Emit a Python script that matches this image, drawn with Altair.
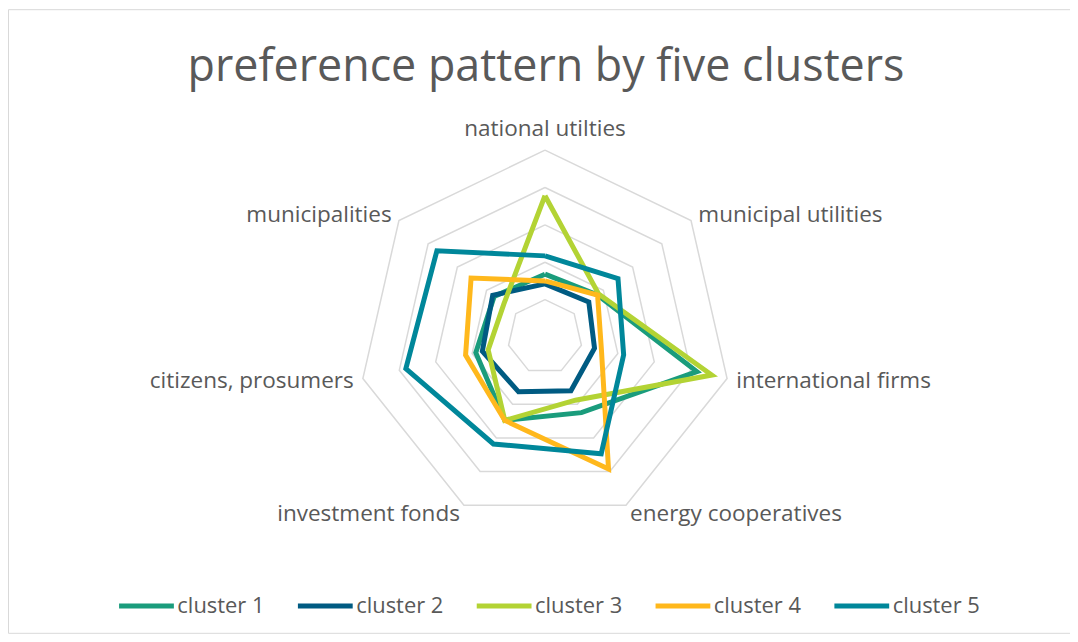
import altair as alt
import pandas as pd

categories = ["national utilties", "municipal utilities", "international firms",
              "energy cooperatives", "investment fonds", "citizens, prosumers",
              "municipalities"]
series_names = ["cluster 1", "cluster 2", "cluster 3", "cluster 4", "cluster 5"]
cluster1 = [1.68, 1.80, 4.17, 2.25, 2.48, 1.90, 1.74]
cluster2 = [1.42, 1.50, 1.36, 1.60, 1.63, 1.72, 1.79]
cluster3 = [3.78, 1.84, 4.58, 1.88, 2.48, 1.56, 1.41]
cluster4 = [1.50, 1.80, 1.55, 3.92, 2.48, 2.18, 2.53]
cluster5 = [2.17, 2.50, 2.16, 3.47, 3.18, 3.82, 3.70]
ring_levels = [1, 2, 3, 4, 5]
colors = ["#1A9C7C", "#005B82", "#B3D334", "#FFB81C", "#00879A"]
title_text = "preference pattern by five clusters"

FONT = "Open Sans"
TEXT_COLOR = "#595959"

rows = []
for name, vals in zip(series_names, [cluster1, cluster2, cluster3, cluster4, cluster5]):
    for i in range(8):
        rows.append({"series": name, "idx": i, "value": vals[i % 7]})
df = pd.DataFrame(rows)

grid_df = pd.DataFrame([{"ring": r, "idx": i, "value": r}
                        for r in ring_levels for i in range(8)])
labels_df = pd.DataFrame({"category": categories, "idx": list(range(7))})
title_df = pd.DataFrame({"t": [title_text]})

W, H = 1066, 626
xscale = alt.Scale(domain=[-539 / 37.5, (W - 539) / 37.5], nice=False, zero=False)
yscale = alt.Scale(domain=[-(H - 329) / 37.5, 329 / 37.5], nice=False, zero=False)

polar = dict(
    x="datum.value * sin(datum.idx * 2 * PI / 7)",
    y="datum.value * cos(datum.idx * 2 * PI / 7)",
)

grid = alt.Chart(grid_df).transform_calculate(**polar).mark_line(
    color="#D9D9D9", strokeWidth=1.5
).encode(
    x=alt.X("x:Q", scale=xscale, axis=None),
    y=alt.Y("y:Q", scale=yscale, axis=None),
    detail="ring:N",
    order="idx:Q",
)

lines = alt.Chart(df).transform_calculate(**polar).mark_line(
    strokeWidth=5, strokeJoin="miter"
).encode(
    x=alt.X("x:Q", scale=xscale, axis=None),
    y=alt.Y("y:Q", scale=yscale, axis=None),
    color=alt.Color(
        "series:N",
        scale=alt.Scale(domain=series_names, range=colors),
        legend=alt.Legend(
            title=None, orient="none", legendX=109, legendY=569,
            direction="horizontal", columns=5, symbolType="stroke",
            symbolSize=3025, symbolStrokeWidth=5, labelFontSize=22,
            labelFont=FONT, labelColor=TEXT_COLOR, labelOffset=1,
            columnPadding=22.5,
        ),
    ),
    order="idx:Q",
)

lab_base = alt.Chart(labels_df).transform_calculate(
    lx="5.25 * sin(datum.idx * 2 * PI / 7)",
    ly="5.25 * cos(datum.idx * 2 * PI / 7)",
)
lab_enc = dict(
    x=alt.X("lx:Q", scale=xscale, axis=None),
    y=alt.Y("ly:Q", scale=yscale, axis=None),
    text="category:N",
)
LFS = 22.6
lab_top = lab_base.transform_filter("datum.idx == 0").mark_text(
    align="center", baseline="bottom", font=FONT, fontSize=LFS, color=TEXT_COLOR
).encode(**lab_enc)
lab_right = lab_base.transform_filter("datum.idx >= 1 && datum.idx <= 3").mark_text(
    align="left", baseline="middle", font=FONT, fontSize=LFS, color=TEXT_COLOR
).encode(**lab_enc)
lab_left = lab_base.transform_filter("datum.idx >= 4").mark_text(
    align="right", baseline="middle", font=FONT, fontSize=LFS, color=TEXT_COLOR
).encode(**lab_enc)

title = alt.Chart(title_df).mark_text(
    align="center", baseline="middle", font=FONT, fontSize=45, color=TEXT_COLOR
).encode(x=alt.value(540), y=alt.value(58), text="t:N")

chart = alt.layer(grid, lines, lab_top, lab_right, lab_left, title).properties(
    width=W, height=H, padding=0, autosize=alt.AutoSizeParams(type="none")
).configure_view(stroke="#D9D9D9", strokeWidth=1)

chart.save("out.html", embed_options={"renderer": "svg", "actions": False})
